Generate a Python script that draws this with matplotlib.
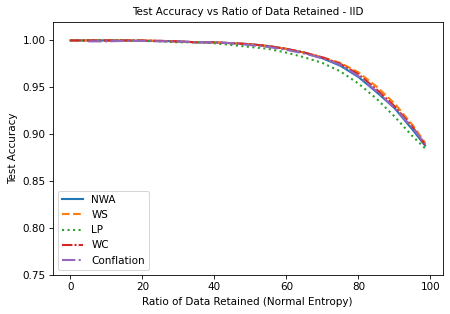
import matplotlib
matplotlib.use("Agg")
import matplotlib.pyplot as plt

# ratio of data retained (%), shared by all series
x = [0, 5, 10, 15, 20, 25, 30, 35, 40, 45, 50, 55, 60, 65, 70, 75, 80, 85, 90, 95, 98.5]
x_conf = x[1:]

nwa = [1.000, 1.000, 1.000, 1.000, 0.9995, 0.9995, 0.999, 0.998, 0.998, 0.997, 0.996,
       0.994, 0.991, 0.987, 0.981, 0.973, 0.961, 0.945, 0.928, 0.905, 0.888]
ws = [1.000, 1.000, 1.000, 1.000, 1.000, 0.9995, 0.999, 0.998, 0.998, 0.997, 0.996,
      0.994, 0.991, 0.987, 0.982, 0.976, 0.966, 0.951, 0.933, 0.910, 0.891]
lp = [1.000, 1.000, 1.000, 1.000, 0.9995, 0.999, 0.998, 0.998, 0.997, 0.995, 0.993,
      0.991, 0.987, 0.982, 0.976, 0.967, 0.954, 0.938, 0.919, 0.898, 0.885]
wc = [1.000, 1.000, 1.000, 1.000, 1.000, 0.9995, 0.999, 0.998, 0.998, 0.997, 0.996,
      0.994, 0.991, 0.987, 0.982, 0.975, 0.964, 0.948, 0.930, 0.908, 0.889]
conflation = [0.999, 0.999, 0.9995, 0.9995, 0.999, 0.999, 0.998, 0.998, 0.997, 0.995,
              0.993, 0.990, 0.986, 0.981, 0.974, 0.962, 0.946, 0.928, 0.907, 0.890]

fig, ax = plt.subplots(figsize=(450 / 75, 314 / 75), dpi=75)
ax.plot(x, nwa, '-', color='tab:blue', lw=2, label='NWA')
ax.plot(x, ws, '--', color='tab:orange', lw=2, label='WS')
ax.plot(x, lp, ':', color='tab:green', lw=2, label='LP')
ax.plot(x, wc, '-.', color='tab:red', lw=2, label='WC', dashes=(5, 1, 1, 1))
ax.plot(x_conf, conflation, '-.', color='tab:purple', lw=2, label='Conflation')

ax.set_ylim(0.75, 1.02)
ax.set_xlabel("Ratio of Data Retained (Normal Entropy)")
ax.set_ylabel("Test Accuracy")
ax.set_title("Test Accuracy vs Ratio of Data Retained - IID", fontsize=10)
ax.legend(loc='lower left')

fig.subplots_adjust(left=0.117, right=0.984, top=0.931, bottom=0.124)
fig.savefig("out.png")
